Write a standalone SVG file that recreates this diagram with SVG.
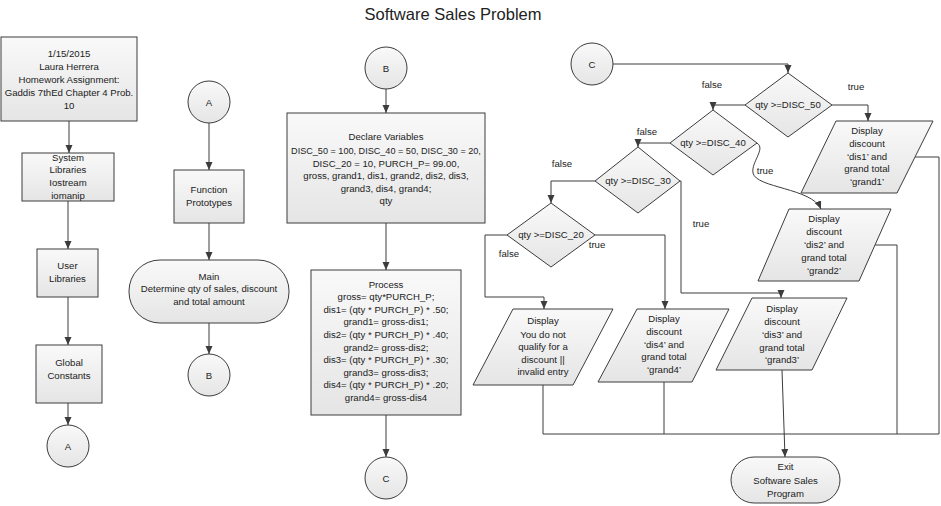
<svg xmlns="http://www.w3.org/2000/svg" width="941" height="506" viewBox="0 0 941 506">
<defs>
<linearGradient id="g" x1="0" y1="0" x2="0" y2="1">
<stop offset="0" stop-color="#f9f9f9"/>
<stop offset="1" stop-color="#e5e5e5"/>
</linearGradient>
<marker id="ah" markerUnits="userSpaceOnUse" markerWidth="8" markerHeight="8" refX="8" refY="3.5" orient="auto">
<path d="M0,0 L8,3.5 L0,7 z" fill="#3c3c3c"/>
</marker>
<style>
.s{fill:url(#g);stroke:#3c3c3c;stroke-width:1}
.c{fill:none;stroke:#3c3c3c;stroke-width:1}
.a{marker-end:url(#ah)}
text{font-family:"Liberation Sans",Arial,sans-serif;font-size:9.6px;fill:#222;text-anchor:middle}
.t{font-size:16.5px}
.n{font-size:9.1px}
</style>
</defs>
<rect width="941" height="506" fill="#ffffff"/>
<text class="t" x="453" y="20">Software Sales Problem</text>

<g id="connectors">
<path class="c a" d="M69,121 V153"/>
<path class="c a" d="M68,201 V249"/>
<path class="c a" d="M68,297 V345"/>
<path class="c a" d="M68,403 V425"/>
<path class="c a" d="M209,123 V170"/>
<path class="c a" d="M209,223 V260"/>
<path class="c a" d="M209,323 V354"/>
<path class="c a" d="M386,89 V113"/>
<path class="c a" d="M386,223 V270"/>
<path class="c a" d="M386,415 V457"/>
<path class="c a" d="M613,64 H788 V73"/>
<path class="c a" d="M745,105 H713 V110"/>
<path class="c a" d="M670,143 H638 V147"/>
<path class="c a" d="M595,181 H551 V203"/>
<path class="c a" d="M832,105 H868 V121"/>
<path class="c a" d="M757,143 C766,149 751,162 753,173 C756,188 812,188 821,209"/>
<path class="c a" d="M680,181 H681 V293 H781 V298"/>
<path class="c a" d="M595,235 H665 V309"/>
<path class="c a" d="M507,235 H485 V297 H544 V309"/>
<path class="c a" d="M782,370 L785,457"/>
<path class="c" d="M915,157 H939 V434"/>
<path class="c" d="M875,245 H897 V434"/>
<path class="c" d="M543,385 V434 H939"/>
<path class="c" d="M664,382 V434"/>
<text x="856" y="90">true</text>
<text x="712" y="88">false</text>
<text x="647" y="135">false</text>
<text x="765" y="174">true</text>
<text x="562" y="167">false</text>
<text x="701" y="227">true</text>
<text x="597" y="248">true</text>
<text x="509" y="257">false</text>
</g>

<g id="n_header">
<rect class="s" x="1" y="37" width="136" height="84"/>
<text x="69"><tspan x="69" y="56.5">1/15/2015</tspan><tspan x="69" y="69.5">Laura Herrera</tspan><tspan x="69" y="82.5">Homework Assignment:</tspan><tspan x="69" y="95.5">Gaddis 7thEd Chapter 4 Prob.</tspan><tspan x="69" y="108.5">10</tspan></text>
</g>
<g id="n_syslib">
<rect class="s" x="22" y="153" width="92" height="48"/>
<text><tspan x="68" y="160.5">System</tspan><tspan x="68" y="173.2">Libraries</tspan><tspan x="68" y="185.9">Iostream</tspan><tspan x="68" y="198.6">iomanip</tspan></text>
</g>
<g id="n_userlib">
<rect class="s" x="37" y="249" width="61" height="48"/>
<text><tspan x="67.5" y="268.5">User</tspan><tspan x="67.5" y="281.5">Libraries</tspan></text>
</g>
<g id="n_global">
<rect class="s" x="36" y="345" width="66" height="58"/>
<text><tspan x="69" y="366">Global</tspan><tspan x="69" y="379">Constants</tspan></text>
</g>
<g id="n_A1">
<circle class="s" cx="68" cy="446" r="21"/>
<text x="68" y="449.5">A</text>
</g>
<g id="n_A2">
<circle class="s" cx="209" cy="102" r="21"/>
<text x="209" y="105.5">A</text>
</g>
<g id="n_proto">
<rect class="s" x="174" y="170" width="70" height="53"/>
<text><tspan x="209" y="193">Function</tspan><tspan x="209" y="206">Prototypes</tspan></text>
</g>
<g id="n_main">
<rect class="s" x="129" y="260" width="160" height="63" rx="31" ry="31"/>
<text><tspan x="209" y="279.5">Main</tspan><tspan x="209" y="292">Determine qty of sales, discount</tspan><tspan x="209" y="304.5">and total amount</tspan></text>
</g>
<g id="n_B1">
<circle class="s" cx="209" cy="375" r="21"/>
<text x="209" y="378.5">B</text>
</g>
<g id="n_B2">
<circle class="s" cx="386" cy="68" r="21"/>
<text x="386" y="71.5">B</text>
</g>
<g id="n_declare">
<rect class="s" x="287" y="113" width="198" height="110"/>
<text><tspan x="386" y="140">Declare Variables</tspan><tspan class="n" x="386" y="154">DISC_50 = 100, DISC_40 = 50, DISC_30 = 20,</tspan><tspan x="386" y="166.6">DISC_20 = 10, PURCH_P= 99.00,</tspan><tspan x="386" y="179.2">gross, grand1, dis1, grand2, dis2, dis3,</tspan><tspan x="386" y="191.8">grand3, dis4, grand4;</tspan><tspan x="386" y="204.4">qty</tspan></text>
</g>
<g id="n_process">
<rect class="s" x="311" y="270" width="150" height="145"/>
<text><tspan x="386" y="287.5">Process</tspan><tspan x="386" y="300.1">gross= qty*PURCH_P;</tspan><tspan x="386" y="312.7">dis1= (qty * PURCH_P) * .50;</tspan><tspan x="386" y="325.3">grand1= gross-dis1;</tspan><tspan x="386" y="337.9">dis2= (qty * PURCH_P) * .40;</tspan><tspan x="386" y="350.5">grand2= gross-dis2;</tspan><tspan x="386" y="363.1">dis3= (qty * PURCH_P) * .30;</tspan><tspan x="386" y="375.7">grand3= gross-dis3;</tspan><tspan x="386" y="388.3">dis4= (qty * PURCH_P) * .20;</tspan><tspan x="386" y="400.9">grand4= gross-dis4</tspan></text>
</g>
<g id="n_C1">
<circle class="s" cx="386" cy="478" r="21"/>
<text x="386" y="481.5">C</text>
</g>
<g id="n_C2">
<circle class="s" cx="592" cy="64" r="21"/>
<text x="592" y="67.5">C</text>
</g>
<g id="n_d50">
<polygon class="s" points="788,73 832,105 788,137 745,105"/>
<text x="788" y="108.3">qty &gt;=DISC_50</text>
</g>
<g id="n_d40">
<polygon class="s" points="713,110 757,143 713,175 670,143"/>
<text x="713" y="146.3">qty &gt;=DISC_40</text>
</g>
<g id="n_d30">
<polygon class="s" points="638,147 680,181 638,213 595,181"/>
<text x="638" y="184.3">qty &gt;=DISC_30</text>
</g>
<g id="n_d20">
<polygon class="s" points="551,203 595,235 551,267 507,235"/>
<text x="551" y="238.3">qty &gt;=DISC_20</text>
</g>
<g id="n_dis1">
<polygon class="s" points="836,121 933,121 897,193 801,193"/>
<text><tspan x="867" y="134">Display</tspan><tspan x="867" y="146.6">discount</tspan><tspan x="867" y="159.8">‘dis1’ and</tspan><tspan x="867" y="172.4">grand total</tspan><tspan x="867" y="185">‘grand1’</tspan></text>
</g>
<g id="n_dis2">
<polygon class="s" points="789,209 891,209 859,281 758,281"/>
<text><tspan x="824" y="222.3">Display</tspan><tspan x="824" y="235.3">discount</tspan><tspan x="824" y="248.3">‘dis2’ and</tspan><tspan x="824" y="261.3">grand total</tspan><tspan x="824" y="274.3">‘grand2’</tspan></text>
</g>
<g id="n_dis3">
<polygon class="s" points="752,298 847,298 812,370 716,370"/>
<text><tspan x="782" y="311.5">Display</tspan><tspan x="782" y="324.5">discount</tspan><tspan x="782" y="337.5">‘dis3’ and</tspan><tspan x="782" y="350.5">grand total</tspan><tspan x="782" y="363.3">‘grand3’</tspan></text>
</g>
<g id="n_dis4">
<polygon class="s" points="637,309 729,309 692,382 598,382"/>
<text><tspan x="664" y="321.6">Display</tspan><tspan x="664" y="335">discount</tspan><tspan x="664" y="347.6">‘dis4’ and</tspan><tspan x="664" y="360">grand total</tspan><tspan x="664" y="373.3">‘grand4’</tspan></text>
</g>
<g id="n_none">
<polygon class="s" points="513,309 613,309 573,385 473,385"/>
<text><tspan x="543" y="324">Display</tspan><tspan x="543" y="337.6">You do not</tspan><tspan x="543" y="350">qualify for a</tspan><tspan x="543" y="362.6">discount ||</tspan><tspan x="543" y="375">invalid entry</tspan></text>
</g>
<g id="n_exit">
<rect class="s" x="731" y="457" width="109" height="46" rx="23" ry="23"/>
<text><tspan x="785.5" y="470">Exit</tspan><tspan x="785.5" y="484">Software Sales</tspan><tspan x="785.5" y="496.6">Program</tspan></text>
</g>
</svg>
